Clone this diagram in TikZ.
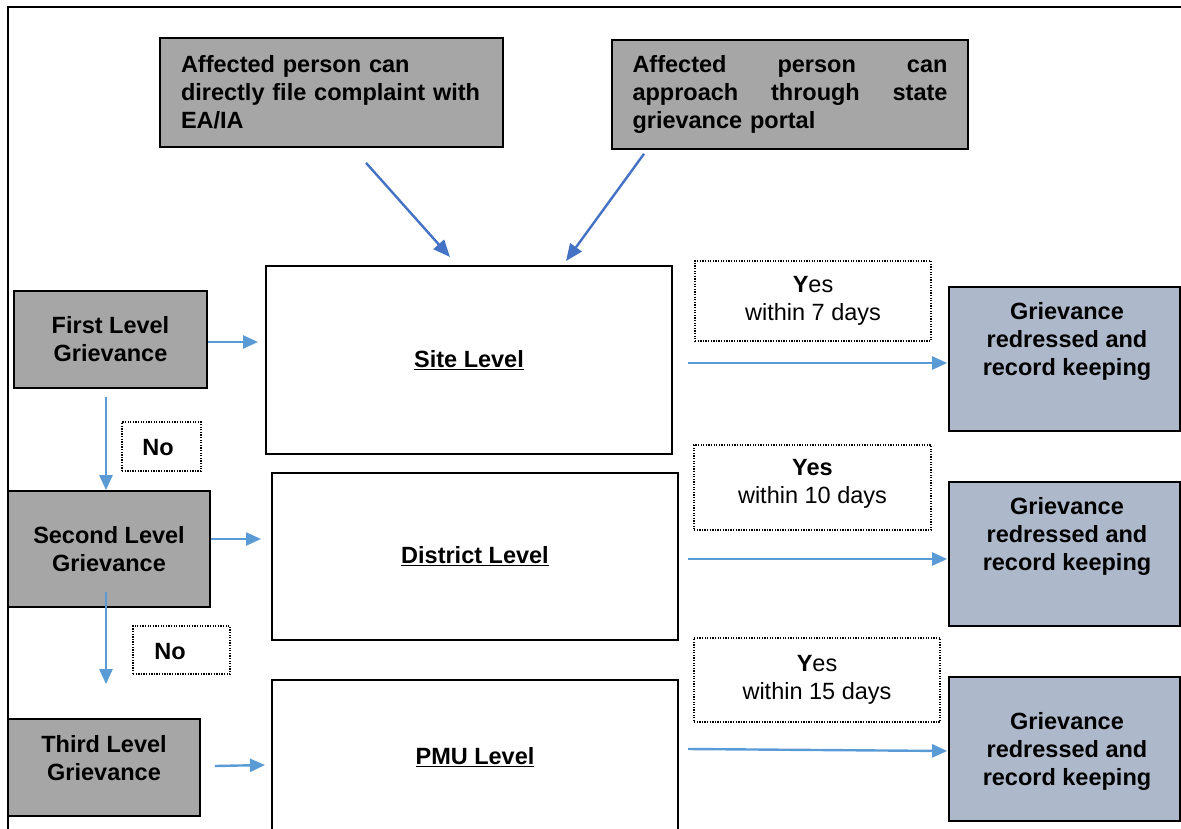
\documentclass[tikz,border=0pt]{standalone}
\usepackage{fontspec}
\setmainfont{Liberation Sans}
\usetikzlibrary{arrows.meta}
\definecolor{boxgray}{HTML}{A6A6A6}
\definecolor{boxblue}{HTML}{ADB9CA}
\definecolor{arrblue}{HTML}{5B9BD5}
\definecolor{arrdark}{HTML}{4472C4}
\newcommand{\justline}[1]{\leavevmode\hbox to 315pt{#1}}
\begin{document}
\begin{tikzpicture}[x=1pt,y=-1pt,
  txt/.style={inner sep=0pt, font=\fontsize{23.5}{28}\selectfont},
  btxt/.style={inner sep=0pt, font=\fontsize{23.5}{28}\selectfont\bfseries, align=center},
  graybox/.style={draw=black, line width=1.7pt, fill=boxgray, inner sep=0pt},
  bluebox/.style={draw=black, line width=1.7pt, fill=boxblue, inner sep=0pt},
  whitebox/.style={draw=black, line width=2pt, inner sep=0pt},
  dotbox/.style={draw=black, line width=1.2pt, dash pattern=on 1.3pt off 1.3pt, inner sep=0pt},
  arr/.style={draw=arrblue, line width=2.4pt, -{Triangle[length=15pt,width=13pt]}},
  arrd/.style={draw=arrdark, line width=2.4pt, -{Triangle[length=17pt,width=14pt]}}
]
\path[use as bounding box] (0,0) rectangle (1181,829);
\clip (0,0) rectangle (1181,829);
% outer frame
\draw[line width=1.8pt] (8,900) -- (8,7) -- (1200,7);

% top boxes
\node[graybox, minimum width=343, minimum height=109, text width=301, align=left,
      font=\fontsize{23.5}{28}\selectfont\bfseries] (a1) at (331.5,92.5)
  {Affected person can\\directly file complaint with\\EA/IA};
\node[graybox, minimum width=356, minimum height=109, text width=315, align=left,
      font=\fontsize{23.5}{28}\selectfont\bfseries] (a2) at (790,94.5)
  {\justline{Affected\hfill person\hfill can}\\\justline{approach\hfill through\hfill state}\\grievance portal};

% level boxes (left)
\node[graybox, minimum width=193, minimum height=97, btxt] (f1) at (110.5,339.5) {First Level\\Grievance};
\node[graybox, minimum width=202, minimum height=116, btxt] (f2) at (109,549) {Second Level\\Grievance};
\node[graybox, minimum width=192, minimum height=97] (f3) at (104,767.5) {};
\node[btxt] (f3t) at (104,758) {Third Level\\Grievance};

% middle white boxes
\node[whitebox, minimum width=406, minimum height=188, btxt] (site) at (469,360) {\underline{Site Level}};
\node[whitebox, minimum width=406, minimum height=167, btxt] (district) at (475,556.5) {\underline{District Level}};
\node[whitebox, minimum width=406, minimum height=220] (pmu) at (475,790) {};
\node[btxt] (pmut) at (475,757) {\underline{PMU Level}};

% No boxes
\node[dotbox, minimum width=79, minimum height=49] (n1) at (161.5,446.5) {};
\node[btxt] (n1t) at (158,448) {No};
\node[dotbox, minimum width=97, minimum height=48] (n2) at (181.5,650) {};
\node[btxt] (n2t) at (170,652) {No};

% Yes boxes
\node[dotbox, minimum width=236, minimum height=80, txt, align=center] (y1) at (813,301) {\textbf{Y}es\\within 7 days};
\node[dotbox, minimum width=237, minimum height=85] (y2) at (812.5,487.5) {};
\node[txt, align=center] (y2t) at (812.5,484) {\textbf{Yes}\\within 10 days};
\node[dotbox, minimum width=246, minimum height=84, txt, align=center] (y3) at (817,680) {\textbf{Y}es\\within 15 days};

% grievance redressed boxes
\node[bluebox, minimum width=231, minimum height=144] (g1) at (1064.5,359) {};
\node[btxt] (g1t) at (1067,341) {Grievance\\redressed and\\record keeping};
\node[bluebox, minimum width=231, minimum height=144] (g2) at (1064.5,554) {};
\node[btxt] (g2t) at (1067,536) {Grievance\\redressed and\\record keeping};
\node[bluebox, minimum width=231, minimum height=144] (g3) at (1064.5,749) {};
\node[btxt] (g3t) at (1067,751) {Grievance\\redressed and\\record keeping};

% arrows from top boxes
\draw[arrd] ([shift={(34.5,15)}]a1.south) -- ([shift={(-19,-8)}]site.north);
\draw[arrd] ([shift={(-146,4)}]a2.south) -- ([shift={(97,-4)}]site.north);

% left arrows
\draw[arr] ([shift={(0,2.5)}]f1.east) -- ([shift={(-7,-18)}]site.west);
\draw[arr] ([shift={(-4.5,8)}]f1.south) -- ([shift={(-3,0)}]f2.north);
\draw[arr] ([shift={(0,-10)}]f2.east) -- ([shift={(-10,-17.5)}]district.west);
\draw[arr] ([shift={(-3,-16)}]f2.south) -- ([shift={(2,-34)}]f3.north);
\draw[arr] ([shift={(14,-1.5)}]f3.east) -- ([shift={(-6,86)}]pmu.north west);

% right arrows
\draw[arr] ([shift={(15,3)}]site.east) -- ([shift={(-1,4)}]g1.west);
\draw[arr] ([shift={(9,2.5)}]district.east) -- ([shift={(-1,5)}]g2.west);
\draw[arr] ([shift={(9,70)}]pmu.north east) -- ([shift={(-1,2)}]g3.west);
\end{tikzpicture}
\end{document}
